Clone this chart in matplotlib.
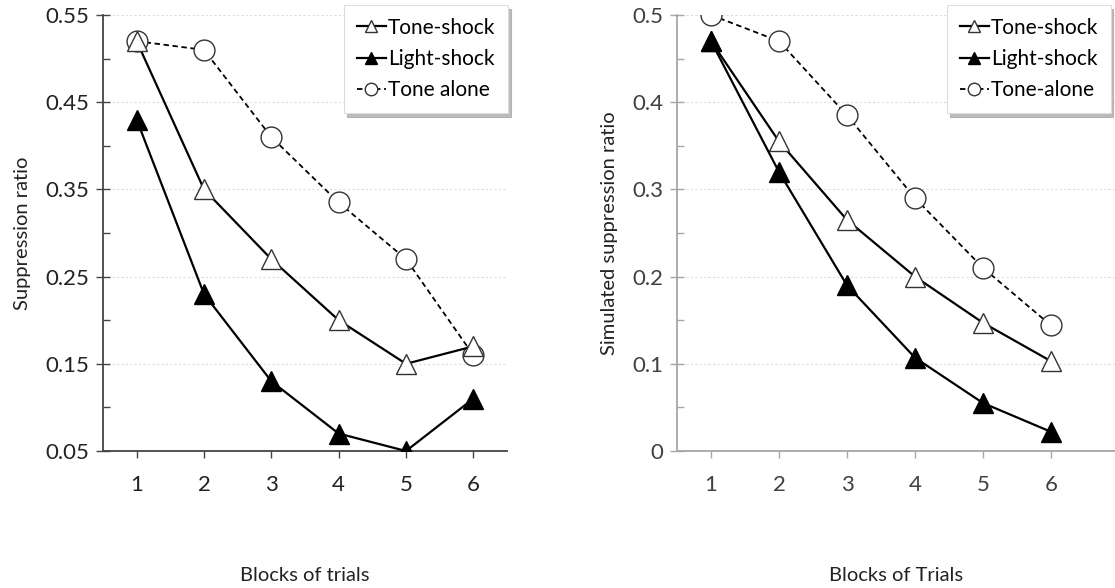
import numpy as np
import matplotlib
matplotlib.use("Agg")
import matplotlib.pyplot as plt
from matplotlib.ticker import MultipleLocator, FixedLocator

plt.rcParams["font.family"] = ["Lato", "DejaVu Sans"]

blocks = [1, 2, 3, 4, 5, 6]

# observed data (left panel)
obs_tone_shock = [0.52, 0.35, 0.27, 0.20, 0.15, 0.17]
obs_light_shock = [0.43, 0.23, 0.13, 0.07, 0.05, 0.11]
obs_tone_alone = [0.52, 0.51, 0.41, 0.335, 0.27, 0.16]
obs_yticks = [0.05, 0.15, 0.25, 0.35, 0.45, 0.55]

# simulated data (right panel)
sim_tone_shock = [0.47, 0.355, 0.265, 0.20, 0.147, 0.103]
sim_light_shock = [0.47, 0.32, 0.19, 0.107, 0.055, 0.022]
sim_tone_alone = [0.50, 0.47, 0.385, 0.29, 0.21, 0.144]
sim_yticks = [0.0, 0.1, 0.2, 0.3, 0.4, 0.5]

W, H = 1115, 588
fig = plt.figure(figsize=(W / 100, H / 100), dpi=100)


def panel(rect, ts, ls, ta, yticks, fmt, ylabel, xlabel, alone_label,
          xmax, spine_col, tick_col, leg_anchor, leg_loc):
    ax = fig.add_axes(rect)
    ax.plot(blocks, ta, linestyle=(0, (3, 2)), color="black", lw=1.3,
            marker="o", ms=15, mfc="white", mec="#333333", mew=1.0,
            label=alone_label, zorder=3)
    ax.plot(blocks, ts, "-", color="black", lw=1.6,
            marker="^", ms=15, mfc="white", mec="#333333", mew=1.0,
            label="Tone-shock", zorder=4)
    ax.plot(blocks, ls, "-", color="black", lw=1.6,
            marker="^", ms=15, mfc="black", mec="black",
            label="Light-shock", zorder=5)
    ax.set_xlim(0.5, xmax)
    ax.set_ylim(yticks[0], yticks[-1])
    ax.set_xticks(blocks)
    step = yticks[1] - yticks[0]
    ax.yaxis.set_major_locator(FixedLocator(yticks))
    ax.yaxis.set_minor_locator(FixedLocator([v + step / 2 for v in yticks[:-1]]))
    ax.yaxis.set_major_formatter(fmt)
    ax.grid(axis="y", which="major", linestyle=(0, (2, 2)), color="#dddddd", lw=0.8)
    ax.set_axisbelow(True)
    for s in ["top", "right"]:
        ax.spines[s].set_visible(False)
    for s in ["left", "bottom"]:
        ax.spines[s].set_color(spine_col)
        ax.spines[s].set_linewidth(1.3)
    ax.tick_params(axis="y", which="major", direction="inout", length=10,
                   width=1, color=spine_col, labelsize=16, labelcolor=tick_col, pad=5)
    ax.tick_params(axis="y", which="minor", direction="in", length=5,
                   width=1, color=spine_col)
    ax.tick_params(axis="x", which="major", direction="out", length=5,
                   width=1, color=spine_col, labelsize=16, labelcolor=tick_col, pad=12)
    ax.set_ylabel(ylabel, fontsize=14.5, color="#222222", labelpad=10)
    ax.set_xlabel(xlabel, fontsize=14.5, color="#222222", labelpad=52)
    handles, labels = ax.get_legend_handles_labels()
    order = [1, 2, 0]
    leg = ax.legend([handles[i] for i in order], [labels[i] for i in order],
                    loc=leg_loc, bbox_to_anchor=leg_anchor,
                    bbox_transform=fig.transFigure, borderaxespad=0,
                    fontsize=15, handlelength=1.4, handletextpad=0.1,
                    markerscale=0.6, borderpad=0.6, labelspacing=0.55,
                    fancybox=False, framealpha=1, edgecolor="#dddddd",
                    shadow={"color": "#aaaaaa", "ox": 2, "oy": -3, "alpha": 0.8})
    leg.get_frame().set_linewidth(0.8)
    return ax


# left panel
l0, r0 = 103 / W, 507 / W
b0, t0 = 1 - 451 / H, 1 - 15 / H
panel([l0, b0, r0 - l0, t0 - b0], obs_tone_shock, obs_light_shock, obs_tone_alone,
      obs_yticks, "{x:.2f}", "Suppression ratio", "Blocks of trials",
      "Tone alone", 6.5, "#444444", "#222222", (508 / W, 1 - 5 / H), "upper right")

# right panel (cut off at the right edge in the source)
l1 = 677 / W
xmax = 0.5 + (W - 677) / 68.0
panel([l1, b0, 1 - l1, t0 - b0], sim_tone_shock, sim_light_shock, sim_tone_alone,
      sim_yticks, lambda v, p: "0" if abs(v) < 1e-9 else f"{v:.1f}",
      "Simulated suppression ratio", "Blocks of Trials", "Tone-alone",
      xmax, "#a6a6a6", "#404040", (947 / W, 1 - 5 / H), "upper left")

fig.savefig("out.png", dpi=100)
